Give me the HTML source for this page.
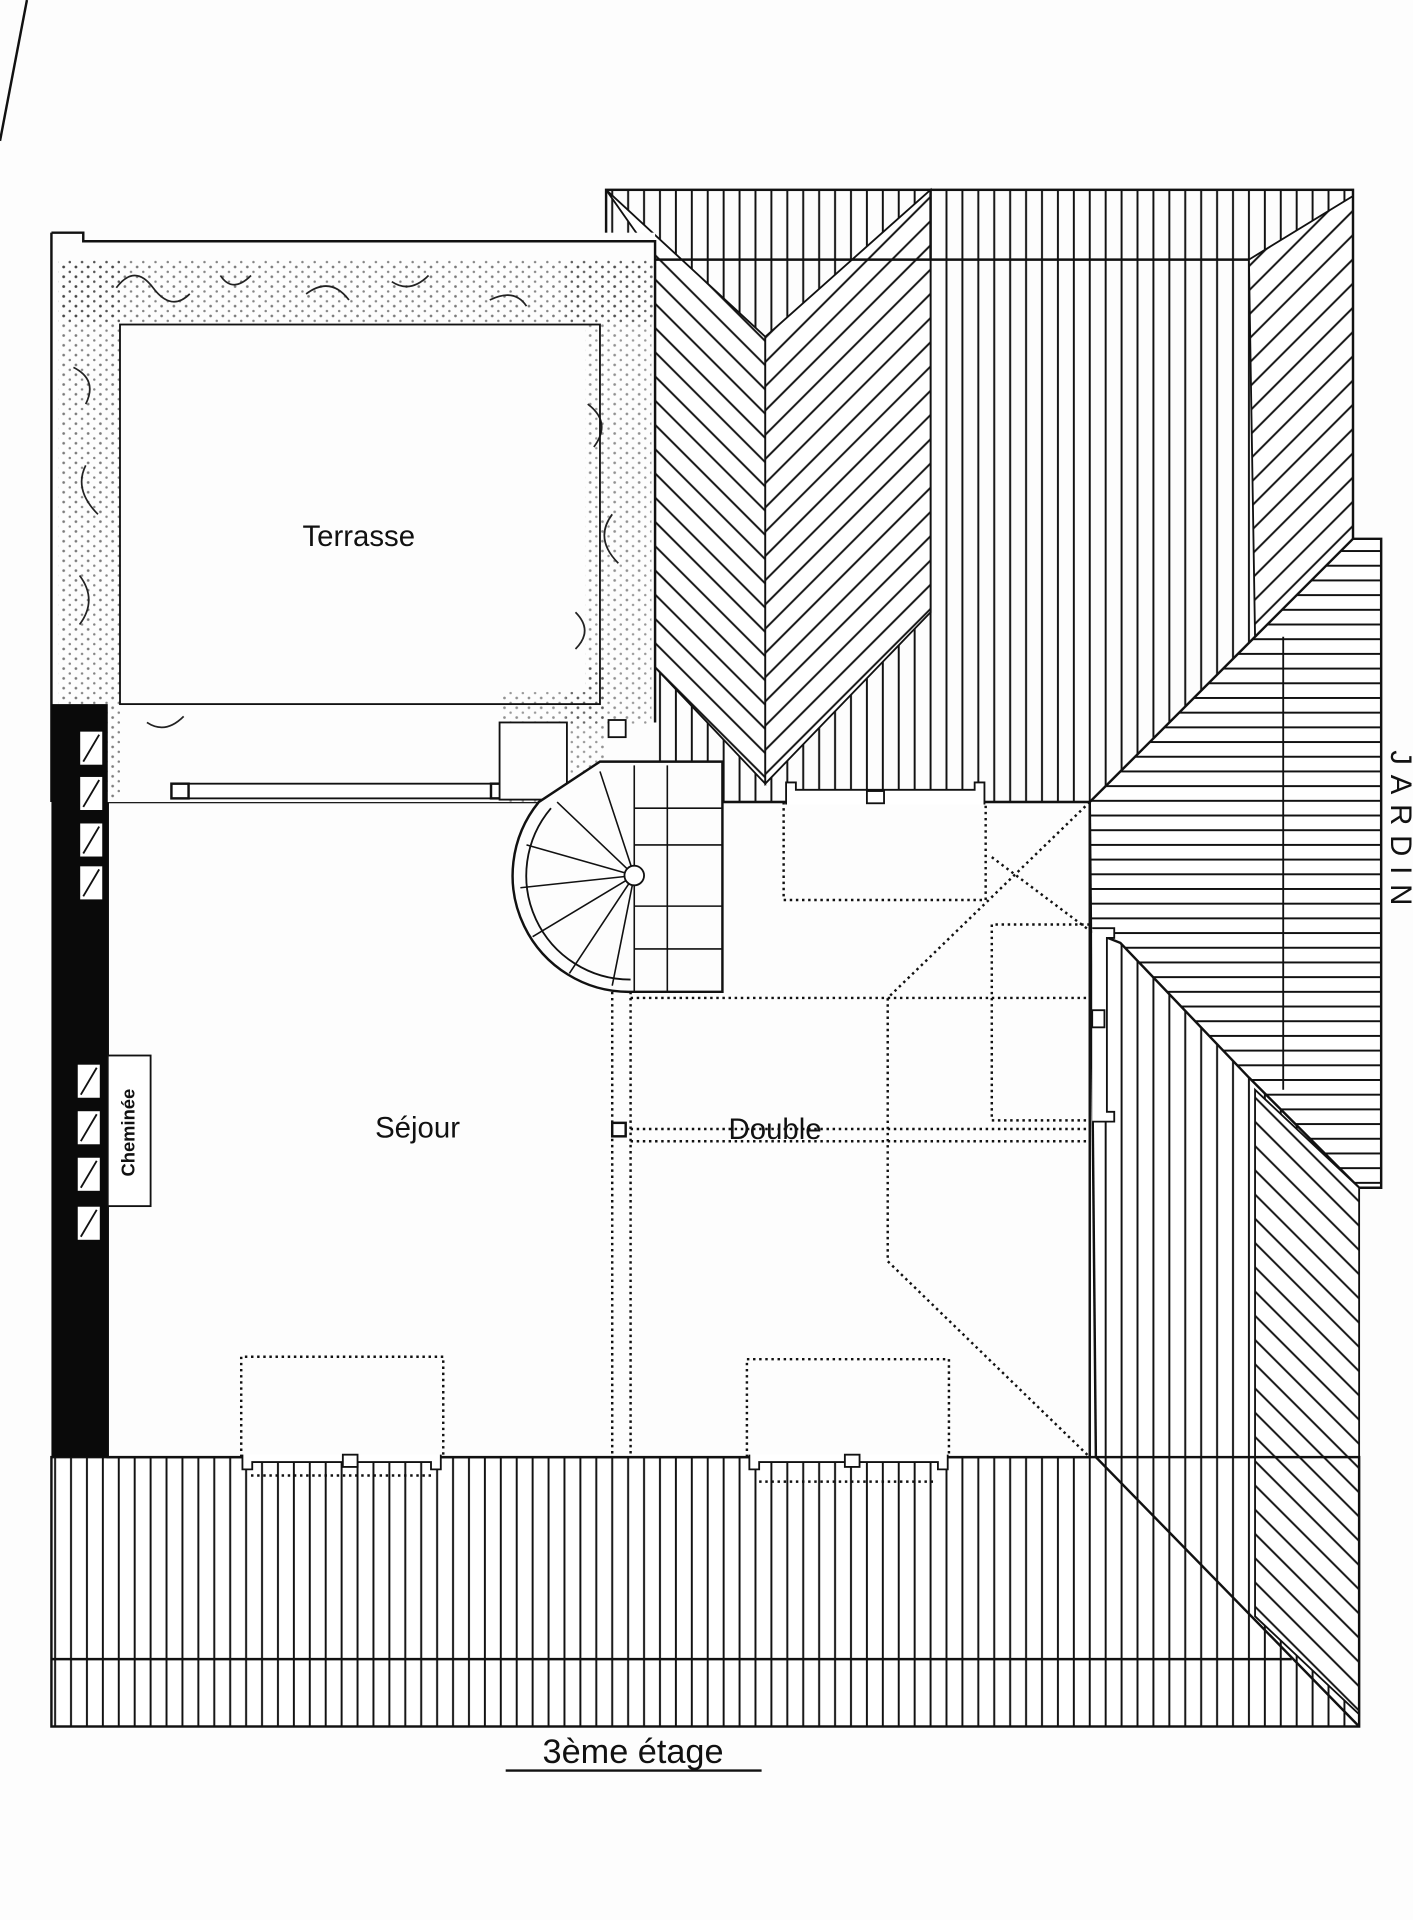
<!DOCTYPE html>
<html><head><meta charset="utf-8"><style>
html,body{margin:0;padding:0;background:#fdfdfd;}
svg{display:block}
text{font-family:"Liberation Sans",sans-serif;fill:#111}
</style></head><body>
<svg width="1413" height="1920" viewBox="0 0 1154 1568" xmlns="http://www.w3.org/2000/svg">
<defs>
<pattern id="v" width="13" height="20" patternUnits="userSpaceOnUse"><line x1="6" y1="0" x2="6" y2="20" stroke="#111" stroke-width="1.6"/></pattern>
<pattern id="h" width="20" height="12" patternUnits="userSpaceOnUse"><line x1="0" y1="6" x2="20" y2="6" stroke="#111" stroke-width="1.6"/></pattern>
<pattern id="d1" width="14" height="14" patternUnits="userSpaceOnUse" patternTransform="rotate(45)"><line x1="7" y1="0" x2="7" y2="14" stroke="#111" stroke-width="1.6"/></pattern>
<pattern id="d2" width="14" height="14" patternUnits="userSpaceOnUse" patternTransform="rotate(-45)"><line x1="7" y1="0" x2="7" y2="14" stroke="#111" stroke-width="1.6"/></pattern>
<pattern id="dots" width="10" height="8" patternUnits="userSpaceOnUse"><circle cx="2" cy="2" r="1.1" fill="#222"/><circle cx="7" cy="6" r="1" fill="#333"/></pattern>
</defs>
<rect width="1154" height="1568" fill="#fdfdfd"/>
<line x1="0" y1="115" x2="22" y2="0" stroke="#111" stroke-width="2"/>

<!-- top roof -->
<rect x="495" y="155" width="610" height="500" fill="url(#v)"/>
<polygon points="495,155 625,275 625,640 535,545 535,212" fill="#fff"/>
<polygon points="495,155 625,275 625,640 535,545 535,212" fill="url(#d2)" stroke="#111" stroke-width="1.5"/>
<polygon points="625,275 760,155 760,500 625,640" fill="#fff"/>
<polygon points="625,275 760,155 760,500 625,640" fill="url(#d1)" stroke="#111" stroke-width="1.5"/>
<polygon points="1020,212 1105,160 1105,440 1025,520" fill="#fff"/>
<polygon points="1020,212 1105,160 1105,440 1025,520" fill="url(#d1)" stroke="#111" stroke-width="1.5"/>
<rect x="495" y="155" width="610" height="500" fill="none" stroke="#111" stroke-width="2"/>
<line x1="535" y1="212" x2="1020" y2="212" stroke="#111" stroke-width="2"/>
<line x1="760" y1="155" x2="760" y2="212" stroke="#111" stroke-width="2"/>

<!-- right lower roof -->
<polygon points="890,655 895,1190 1110,1410 1110,655" fill="#fff"/>
<polygon points="890,700 895,1190 1110,1410 1110,700" fill="url(#v)"/>
<!-- right horizontal roof -->
<polygon points="890,655 1025,520 1105,440 1128,440 1128,970 1110,970 1020,880 915,770 890,760" fill="#fff"/>
<polygon points="890,655 1025,520 1105,440 1128,440 1128,970 1110,970 1020,880 915,770 890,760" fill="url(#h)" stroke="#111" stroke-width="2"/>
<line x1="1048" y1="520" x2="1048" y2="890" stroke="#111" stroke-width="1.5"/>

<!-- bottom roof -->
<rect x="42" y="1190" width="1068" height="220" fill="#fff"/>
<rect x="42" y="1190" width="1068" height="220" fill="url(#v)"/>
<polygon points="1025,890 1110,970 1110,1400 1025,1320" fill="#fff"/>
<polygon points="1025,890 1110,970 1110,1400 1025,1320" fill="url(#d2)" stroke="#111" stroke-width="1.5"/>
<rect x="42" y="1190" width="1068" height="220" fill="none" stroke="#111" stroke-width="2"/>
<line x1="42" y1="1355" x2="1055" y2="1355" stroke="#111" stroke-width="2"/>
<line x1="895" y1="1190" x2="1110" y2="1410" stroke="#111" stroke-width="2"/>

<!-- floor -->
<rect x="88" y="655" width="802" height="535" fill="#fdfdfd" stroke="#111" stroke-width="2"/>
<line x1="890" y1="655" x2="895" y2="1190" stroke="#111" stroke-width="2"/>

<!-- terrace -->
<rect x="42" y="190" width="493" height="465" fill="#fdfdfd"/>
<path d="M42,190 H68 V197 H535 V590 M42,190 V655" fill="none" stroke="#111" stroke-width="2"/>
<rect x="48" y="212" width="50" height="440" fill="url(#dots)" opacity="0.6"/>
<rect x="48" y="212" width="487" height="52" fill="url(#dots)" opacity="0.6"/>
<rect x="462" y="212" width="70" height="380" fill="url(#dots)" opacity="0.5"/>
<rect x="410" y="545" width="85" height="110" fill="url(#dots)" opacity="0.5"/>
<rect x="98" y="265" width="380" height="300" fill="#fdfdfd"/>
<path d="M95,235 q15,-20 30,0 t30,5 M180,225 q10,15 25,0 M250,240 q20,-15 35,5 M320,230 q15,10 30,-5 M400,245 q20,-10 30,5 M60,300 q20,10 10,30 M70,380 q-10,20 10,40 M65,470 q15,20 0,40 M480,330 q20,15 5,35 M500,420 q-15,20 5,40 M470,500 q15,15 0,30 M120,590 q15,10 30,-5" fill="none" stroke="#222" stroke-width="1.4"/>
<rect x="98" y="265" width="392" height="310" fill="none" stroke="#111" stroke-width="1.5"/>
<!-- terrace window -->
<rect x="140" y="640" width="275" height="12" fill="#fff" stroke="#111" stroke-width="1.5"/>
<rect x="140" y="640" width="14" height="12" fill="#fff" stroke="#111" stroke-width="2"/>
<rect x="401" y="640" width="14" height="12" fill="#fff" stroke="#111" stroke-width="2"/>
<rect x="497" y="588" width="14" height="14" fill="#fff" stroke="#111" stroke-width="1.5"/>

<!-- left wall -->
<rect x="42" y="575" width="46" height="615" fill="#0a0a0a"/>
<g fill="#fff" stroke="#fff">
<rect x="66" y="598" width="17" height="26"/><rect x="66" y="635" width="17" height="26"/><rect x="66" y="673" width="17" height="26"/><rect x="66" y="708" width="17" height="26"/>
<rect x="64" y="870" width="17" height="26"/><rect x="64" y="908" width="17" height="26"/><rect x="64" y="946" width="17" height="26"/><rect x="64" y="986" width="17" height="26"/>
</g>
<g stroke="#111" stroke-width="1.5">
<line x1="68" y1="622" x2="81" y2="600"/><line x1="68" y1="659" x2="81" y2="637"/><line x1="68" y1="697" x2="81" y2="675"/><line x1="68" y1="732" x2="81" y2="710"/>
<line x1="66" y1="894" x2="79" y2="872"/><line x1="66" y1="932" x2="79" y2="910"/><line x1="66" y1="970" x2="79" y2="948"/><line x1="66" y1="1010" x2="79" y2="988"/>
</g>
<rect x="88" y="862" width="35" height="123" fill="#fff" stroke="#111" stroke-width="1.5"/>
<text transform="translate(110,925) rotate(-90)" font-size="15" font-weight="bold" text-anchor="middle">Cheminée</text>

<!-- stairs -->
<rect x="408" y="590" width="55" height="63" fill="#fdfdfd" stroke="#111" stroke-width="1.5"/>
<path d="M515,810 A95,95 0 0 1 440,655 L490,622 H590 V810 Z" fill="#fdfdfd" stroke="#111" stroke-width="2"/>
<path d="M515,800 A85,85 0 0 1 450,660" fill="none" stroke="#111" stroke-width="1.5"/>
<g stroke="#111" stroke-width="1.3">
<line x1="518" y1="715" x2="430" y2="690"/><line x1="518" y1="715" x2="425" y2="725"/><line x1="518" y1="715" x2="435" y2="765"/><line x1="518" y1="715" x2="465" y2="795"/><line x1="518" y1="715" x2="500" y2="805"/><line x1="518" y1="715" x2="455" y2="655"/><line x1="518" y1="715" x2="490" y2="630"/>
<line x1="518" y1="625" x2="518" y2="810"/><line x1="545" y1="625" x2="545" y2="810"/>
<line x1="518" y1="660" x2="590" y2="660"/><line x1="518" y1="690" x2="590" y2="690"/><line x1="518" y1="740" x2="590" y2="740"/><line x1="518" y1="775" x2="590" y2="775"/>
</g>
<circle cx="518" cy="715" r="8" fill="#fff" stroke="#111" stroke-width="1.5"/>

<!-- dotted lines -->
<g fill="none" stroke="#111" stroke-width="2" stroke-dasharray="2,3">
<line x1="500" y1="810" x2="500" y2="1190"/><line x1="515" y1="810" x2="515" y2="1190"/>
<line x1="515" y1="815" x2="890" y2="815"/>
<line x1="515" y1="922" x2="890" y2="922"/><line x1="515" y1="932" x2="890" y2="932"/>
<polyline points="640,655 640,735 805,735 805,655"/>
<polyline points="890,655 725,815 725,1030 890,1190"/>
<polyline points="810,700 890,760"/>
<polyline points="890,755 810,755 810,915 890,915"/>
<polyline points="197,1190 197,1108 362,1108 362,1190"/>
<polyline points="610,1190 610,1110 775,1110 775,1190"/>
<line x1="205" y1="1205" x2="355" y2="1205"/><line x1="620" y1="1210" x2="765" y2="1210"/>
</g>
<rect x="500" y="917" width="11" height="11" fill="#fff" stroke="#111" stroke-width="2"/>

<!-- windows -->
<g fill="#fff" stroke="#111" stroke-width="1.5">
<path d="M198,1188 v12 h8 v-6 h146 v6 h8 v-12" /><rect x="280" y="1188" width="12" height="10"/>
<path d="M612,1188 v12 h8 v-6 h146 v6 h8 v-12"/><rect x="690" y="1188" width="12" height="10"/>
<path d="M642,657 v-18 h8 v6 h146 v-6 h8 v18"/><rect x="708" y="646" width="14" height="10"/>
<path d="M892,758 h18 v8 h-6 v142 h6 v8 h-18"/><rect x="892" y="825" width="10" height="14"/>
</g>

<text x="293" y="446" font-size="24" text-anchor="middle" font-family="Liberation Mono">Terrasse</text>
<text x="341" y="929" font-size="24" text-anchor="middle" font-family="Liberation Mono">Séjour</text>
<text x="633" y="930" font-size="24" text-anchor="middle" font-family="Liberation Mono">Double</text>
<text transform="translate(1136,680) rotate(90)" font-size="24" text-anchor="middle" letter-spacing="8">JARDIN</text>
<text x="517" y="1440" font-size="28" text-anchor="middle" font-family="Liberation Mono">3ème étage</text>
<line x1="413" y1="1446" x2="622" y2="1446" stroke="#111" stroke-width="2"/>
</svg>
</body></html>
